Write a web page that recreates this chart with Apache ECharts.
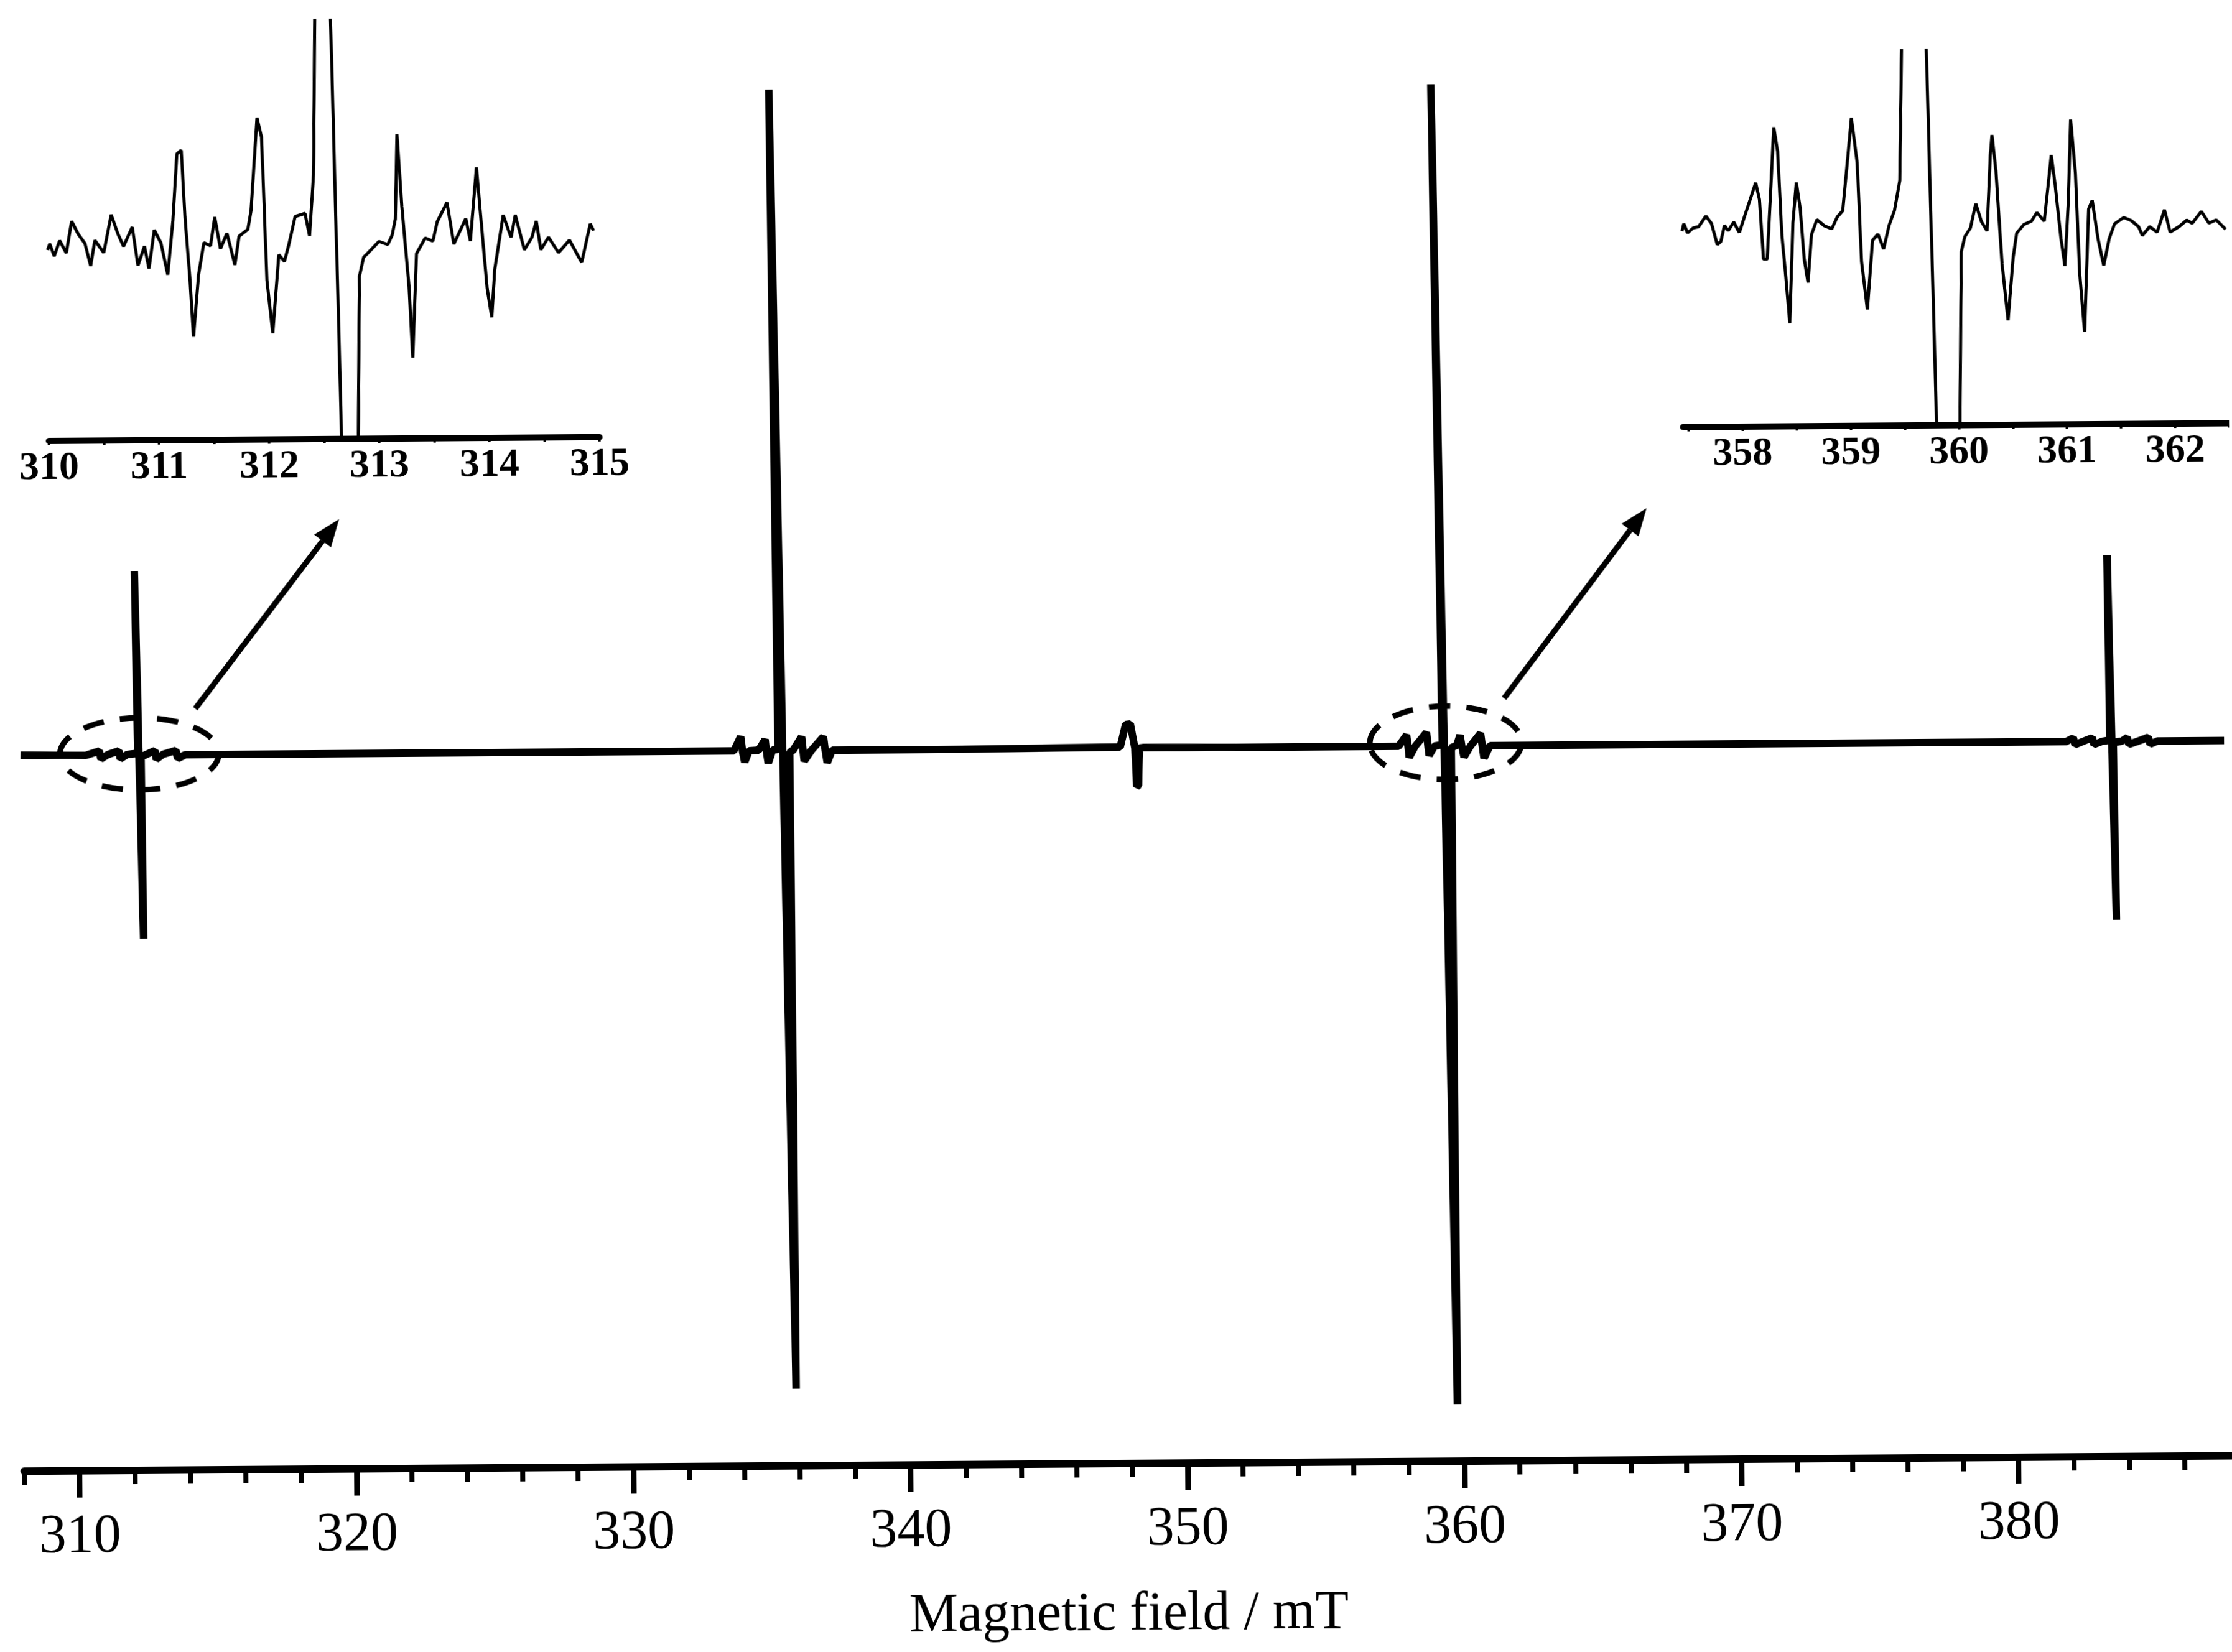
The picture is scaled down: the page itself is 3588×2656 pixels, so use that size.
<!DOCTYPE html>
<html>
<head>
<meta charset="utf-8">
<script src="https://cdn.jsdelivr.net/npm/echarts@6.0.0/dist/echarts.min.js"></script>
<style>
  html, body { margin: 0; padding: 0; background: #fff; overflow: hidden; }
  #chart { width: 3588px; height: 2656px; transform: rotate(-0.4deg); transform-origin: 50% 50%; }
</style>
</head>
<body>
<div id="chart"></div>
<script>
// ---- full EPR sweep: [field (mT), signal (a.u.)] ----
const mainTrace = [
  [308.05, 0.1], [310.4, 0.0], [310.9, 0.7], [310.95, -0.6], [311.2, 0.1], [311.6, 0.7], [311.65, -0.6], [311.9, 0.1],
  [312.28, 0.3], [312.205, 29.6], [312.448, -29.5], [312.40, -0.3],
  [312.6, 0.1], [312.9, 0.7], [312.95, -0.7], [313.2, 0.1], [313.66, 0.7], [313.72, -0.6], [314.0, 0.0],
  [320.0, 0.0], [326.0, 0.0], [330.0, 0.0], [333.8, 0.0],
  [334.05, 2.3], [334.12, -0.2], [334.19, -1.8], [334.35, 0.0], [334.7, 0.1], [334.93, 1.8], [334.98, -0.2], [335.04, -2.0], [335.2, 0.1],
  [335.40, 0.2], [335.23, 106.3], [335.89, -102.6], [335.82, -0.3],
  [335.95, 0.1], [336.25, 2.2], [336.3, 0.0], [336.34, -1.7], [336.6, 0.0], [337.04, 2.2], [337.1, 0.0], [337.17, -2.0], [337.35, 0.0],
  [342.0, 0.0], [347.75, 0.2], [347.85, 2.0], [347.95, 3.8], [348.12, 3.9], [348.28, 0.0], [348.34, -6.2], [348.40, -6.0], [348.44, 0.0], [348.6, 0.1],
  [352.0, 0.0], [356.0, 0.0], [357.8, 0.0],
  [358.09, 1.8], [358.14, 0.0], [358.18, -1.8], [358.4, 0.0], [358.81, 2.2], [358.86, 0.0], [358.90, -1.5], [359.1, 0.0],
  [359.38, 0.2], [359.13, 106.4], [359.76, -105.9], [359.70, -0.3],
  [359.9, 0.1], [360.02, 1.7], [360.08, 0.0], [360.16, -1.8], [360.4, 0.0], [360.76, 2.0], [360.82, 0.0], [360.88, -2.0], [361.1, 0.0],
  [366.0, 0.0], [372.0, 0.0], [378.0, 0.0], [381.9, 0.0],
  [382.16, 0.6], [382.22, -0.5], [382.5, 0.0], [382.85, 0.6], [382.9, -0.5], [383.2, 0.0],
  [383.48, 0.2], [383.42, 29.9], [383.67, -28.7], [383.60, -0.2],
  [383.9, 0.0], [384.11, 0.6], [384.16, -0.5], [384.5, 0.0], [384.87, 0.6], [384.93, -0.5], [385.2, 0.0], [387.6, 0.0]
];

// ---- expanded scan around the low-field line ----
const lowFieldTrace = [
  [310.0, -0.5], [310.02, 0.5], [310.06, -1.5], [310.11, 1.0], [310.17, -1.0], [310.22, 4.1], [310.28, 2.0], [310.34, 0.5],
  [310.39, -3.1], [310.43, 1.0], [310.51, -1.0], [310.58, 5.1], [310.64, 2.0], [310.69, 0.0], [310.77, 3.1], [310.82, -3.1],
  [310.88, 0.0], [310.92, -3.6], [310.97, 2.6], [311.03, 0.5], [311.09, -4.6], [311.14, 4.1], [311.18, 14.8], [311.22, 15.4],
  [311.25, 4.6], [311.29, -5.1], [311.32, -14.6], [311.37, -4.6], [311.42, 0.5], [311.48, 0.0], [311.52, 4.6], [311.57, -0.5],
  [311.63, 2.0], [311.70, -3.1], [311.74, 1.5], [311.82, 2.6], [311.85, 5.6], [311.91, 20.5], [311.95, 17.4], [311.99, -5.6],
  [312.04, -14.1], [312.10, -1.5], [312.15, -2.6], [312.19, 0.0], [312.25, 4.6], [312.34, 5.1], [312.38, 1.5], [312.42, 11.3],
  [312.44, 36.1], [312.455, 70], [312.546, 70], [312.584, 36.1], [312.659, -31.3], [312.69, -60], [312.80, -60], [312.81, -31.3],
  [312.83, -5.1], [312.87, -2.0], [312.90, -1.5], [313.01, 0.5], [313.09, 0.0], [313.13, 1.5], [313.16, 4.1], [313.18, 17.7],
  [313.22, 6.1], [313.28, -6.7], [313.31, -18.2], [313.35, -1.5], [313.43, 1.0], [313.50, 0.5], [313.54, 3.6], [313.63, 6.7],
  [313.69, 0.0], [313.80, 4.1], [313.84, 0.5], [313.90, 12.3], [313.93, 5.6], [313.99, -7.2], [314.03, -11.8], [314.06, -4.1],
  [314.14, 4.6], [314.21, 1.0], [314.25, 4.6], [314.33, -1.0], [314.40, 1.0], [314.44, 3.6], [314.48, -1.0], [314.55, 1.0],
  [314.64, -1.5], [314.74, 0.5], [314.85, -3.1], [314.93, 3.1], [314.96, 2.0]
];

// ---- expanded scan around the 360 mT line ----
const highFieldTrace = [
  [357.453, -0.7], [357.470, 0.5], [357.504, -1.0], [357.556, -0.2], [357.607, 0.0], [357.675, 1.7], [357.726, 0.5],
  [357.778, -2.9], [357.812, -2.4], [357.846, 0.2], [357.880, -0.7], [357.932, 0.7], [357.983, -1.0], [358.034, 1.7],
  [358.085, 4.3], [358.137, 7.0], [358.171, 4.3], [358.205, -5.3], [358.239, -5.3], [358.274, 5.3], [358.308, 15.9],
  [358.342, 12.0], [358.376, -1.4], [358.410, -8.2], [358.444, -15.6], [358.479, 0.5], [358.513, 7.0], [358.547, 2.9],
  [358.581, -5.3], [358.615, -9.1], [358.650, -1.4], [358.701, 1.0], [358.769, 0.0], [358.838, -0.5], [358.889, 1.4],
  [358.940, 2.4], [358.991, 11.1], [359.026, 17.3], [359.077, 10.1], [359.111, -5.8], [359.162, -13.5], [359.214, -2.4],
  [359.265, -1.4], [359.316, -3.8], [359.368, 0.0], [359.419, 2.4], [359.470, 7.2], [359.494, 28.1], [359.50, 40],
  [359.709, 40], [359.723, 28.1], [359.795, -32.2], [359.810, -45], [359.99, -45], [360.01, -32.2], [360.034, -4.3],
  [360.068, -1.9], [360.120, -0.5], [360.171, 3.4], [360.222, 0.5], [360.274, -1.0], [360.308, 11.1], [360.325, 14.4],
  [360.359, 8.7], [360.410, -6.3], [360.462, -15.4], [360.513, -5.3], [360.547, -1.4], [360.615, 0.0], [360.684, 0.5],
  [360.735, 1.9], [360.803, 0.5], [360.838, 5.8], [360.872, 11.1], [360.906, 6.3], [360.957, -2.4], [360.991, -6.7],
  [361.026, 3.4], [361.053, 16.8], [361.094, 8.2], [361.128, -8.2], [361.169, -17.3], [361.214, 2.4], [361.248, 3.8],
  [361.299, -2.4], [361.350, -6.7], [361.402, -2.4], [361.453, 0.0], [361.538, 1.0], [361.607, 0.5], [361.675, -0.5],
  [361.709, -1.9], [361.778, -0.5], [361.846, -1.4], [361.915, 2.2], [361.966, -1.4], [362.051, -0.5], [362.120, 0.5],
  [362.171, 0.0], [362.256, 1.9], [362.325, 0.0], [362.393, 0.5], [362.479, -1.0]
];

// ---- axis ticks and labels ----
const mainMajorTicks = [310, 320, 330, 340, 350, 360, 370, 380];
const mainMinorTicks = [308, 312, 314, 316, 318, 322, 324, 326, 328, 332, 334, 336, 338, 342, 344, 346, 348,
  352, 354, 356, 358, 362, 364, 366, 368, 372, 374, 376, 378, 382, 384, 386];
const lowFieldLabels = [310, 311, 312, 313, 314, 315];
const lowFieldTicks = [310, 310.5, 311, 311.5, 312, 312.5, 313, 313.5, 314, 314.5, 315];
const highFieldLabels = [358, 359, 360, 361, 362];
const highFieldTicks = [357.5, 358, 358.5, 359, 359.5, 360, 360.5, 361, 361.5, 362, 362.5];

// ---- dashed outlines marking the expanded regions: [field, level, half-width (mT), half-height] ----
const outlines = [
  [312.34, 0.2, 2.87, 5.8],
  [359.50, 0.5, 2.74, 5.9]
];
// ---- pointer arrows: [from field, from level, to field, to level] ----
const pointers = [
  [314.37, 7.4, 319.61, 37.7],
  [361.62, 7.6, 366.81, 38.0]
];

const serif = '"Liberation Serif", "Times New Roman", serif';
const ink = '#000';

const chart = echarts.init(document.getElementById('chart'), null, { renderer: 'canvas' });

chart.setOption({
  backgroundColor: '#fff',
  animation: false,
  grid: [
    { left: 31.6, width: 3549, top: 103, bottom: 303 },
    { left: 31.6, width: 3549, top: 103, bottom: 303 },
    { left: 83, width: 885, top: 24, height: 673 },
    { left: 2710, width: 886, top: 90, height: 603 }
  ],
  xAxis: [
    {
      gridIndex: 0, type: 'value', min: 308, max: 387.7,
      name: 'Magnetic field / mT', nameLocation: 'middle', nameGap: 200,
      nameTextStyle: { fontFamily: serif, fontSize: 88, color: ink },
      axisLine: { onZero: false, lineStyle: { color: ink, width: 12 } },
      axisTick: { customValues: mainMajorTicks, length: 43, lineStyle: { color: ink, width: 9 } },
      axisLabel: { customValues: mainMajorTicks, fontFamily: serif, fontSize: 88, color: ink, margin: 63 },
      splitLine: { show: false }
    },
    {
      gridIndex: 1, type: 'value', min: 308, max: 387.7,
      axisLine: { show: false, onZero: false },
      axisTick: { customValues: mainMinorTicks, length: 22, lineStyle: { color: ink, width: 8 } },
      axisLabel: { show: false },
      splitLine: { show: false }
    },
    {
      gridIndex: 2, type: 'value', min: 310, max: 315,
      axisLine: { onZero: false, lineStyle: { color: ink, width: 10 } },
      axisTick: { customValues: lowFieldTicks, length: 7, lineStyle: { color: ink, width: 4 } },
      axisLabel: { customValues: lowFieldLabels, fontFamily: serif, fontWeight: 'bold', fontSize: 64, color: ink, margin: 12 },
      splitLine: { show: false }
    },
    {
      gridIndex: 3, type: 'value', min: 357.45, max: 362.5,
      axisLine: { onZero: false, lineStyle: { color: ink, width: 10 } },
      axisTick: { customValues: highFieldTicks, length: 7, lineStyle: { color: ink, width: 4 } },
      axisLabel: { customValues: highFieldLabels, fontFamily: serif, fontWeight: 'bold', fontSize: 64, color: ink, margin: 12 },
      splitLine: { show: false }
    }
  ],
  yAxis: [
    { gridIndex: 0, type: 'value', min: -115, max: 110, show: false },
    { gridIndex: 1, type: 'value', min: -115, max: 110, show: false },
    { gridIndex: 2, type: 'value', min: -31.2, max: 36.1, show: false },
    { gridIndex: 3, type: 'value', min: -32.2, max: 28.1, show: false }
  ],
  series: [
    {
      type: 'line', xAxisIndex: 0, yAxisIndex: 0, data: mainTrace,
      showSymbol: false, symbol: 'none', clip: true,
      lineStyle: { color: ink, width: 12 }
    },
    {
      type: 'line', xAxisIndex: 2, yAxisIndex: 2, data: lowFieldTrace,
      showSymbol: false, symbol: 'none', clip: true,
      lineStyle: { color: ink, width: 5 }
    },
    {
      type: 'line', xAxisIndex: 3, yAxisIndex: 3, data: highFieldTrace,
      showSymbol: false, symbol: 'none', clip: true,
      lineStyle: { color: ink, width: 5 }
    },
    {
      type: 'custom', xAxisIndex: 0, yAxisIndex: 0, data: outlines,
      encode: { x: 0, y: 1 },
      renderItem: function (params, api) {
        const c = api.coord([api.value(0), api.value(1)]);
        const s = api.size([api.value(2), api.value(3)]);
        return {
          type: 'ellipse',
          shape: { cx: c[0], cy: c[1], rx: s[0], ry: s[1] },
          style: { fill: null, stroke: ink, lineWidth: 9, lineDash: [34, 26] }
        };
      }
    },
    {
      type: 'custom', xAxisIndex: 0, yAxisIndex: 0, data: pointers,
      encode: { x: [0, 2], y: [1, 3] },
      renderItem: function (params, api) {
        const p1 = api.coord([api.value(0), api.value(1)]);
        const p2 = api.coord([api.value(2), api.value(3)]);
        const dx = p2[0] - p1[0], dy = p2[1] - p1[1];
        const len = Math.hypot(dx, dy);
        const ux = dx / len, uy = dy / len;
        const headLen = 44, headHalf = 17;
        const bx = p2[0] - ux * headLen, by = p2[1] - uy * headLen;
        return {
          type: 'group',
          children: [
            { type: 'line', shape: { x1: p1[0], y1: p1[1], x2: bx, y2: by },
              style: { stroke: ink, lineWidth: 9 } },
            { type: 'polygon',
              shape: { points: [[p2[0], p2[1]], [bx - uy * headHalf, by + ux * headHalf], [bx + uy * headHalf, by - ux * headHalf]] },
              style: { fill: ink } }
          ]
        };
      }
    }
  ]
});
</script>
</body>
</html>
